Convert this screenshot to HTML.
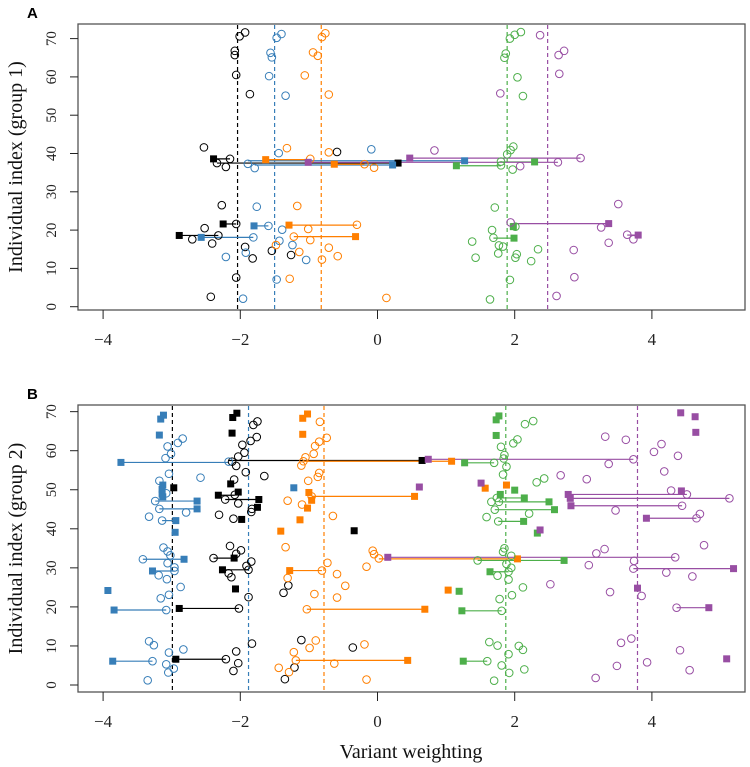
<!DOCTYPE html>
<html><head><meta charset="utf-8"><style>
html,body{margin:0;padding:0;background:#fff;}
svg{display:block;}
</style></head><body>
<svg id="chart" width="750" height="767" viewBox="0 0 750 767" xmlns="http://www.w3.org/2000/svg"></svg>
<script>
// ---------- Panel A data ----------
const xTicks = [-4,-2,0,2,4];
const yTicks = [0,10,20,30,40,50,60,70];
const colorNames = ["black","blue","orange","green","purple"];
const aMeans = [-2.04,-1.50,-0.82,1.89,2.48];
const aBlackCircles = [[-1.93,71.6],[-2.01,70.6],[-2.08,66.8],[-2.08,65.7],[-2.06,60.5],[-1.86,55.5],[-2.53,41.6],[-0.59,40.4],[-2.15,38.6],[-2.34,37.5],[-2.21,36.5],[-2.27,26.5],[-2.06,21.6],[-2.52,20.5],[-2.70,17.6],[-2.32,18.6],[-2.41,16.5],[-1.93,15.6],[-1.54,14.6],[-1.82,12.6],[-1.26,13.5],[-2.06,7.6],[-2.43,2.6]];
const aBlackSquares = [[-2.39,38.6,-2.15],[0.30,37.5,-2.34],[-2.25,21.6,-2.06],[-2.89,18.6,-2.32]];
const aBlueCircles = [[-1.40,71.2],[-1.47,70.2],[-1.56,66.3],[-1.54,65.1],[-1.58,60.2],[-1.34,55.1],[-0.09,41.1],[-1.44,40.1],[-1.89,37.3],[-1.79,36.2],[-1.76,26.1],[-1.59,21.1],[-1.39,20.1],[-1.81,18.1],[-1.43,17.2],[-1.24,16.1],[-1.92,14.1],[-2.21,13.0],[-1.04,12.2],[-1.47,7.1],[-1.96,2.1]];
const aBlueSquares = [[1.27,38.1,-1.89],[0.22,37.0,-1.79],[-1.80,21.1,-1.59],[-2.57,18.1,-1.81]];
const aOrangeCircles = [[-0.76,71.4],[-0.81,70.4],[-0.94,66.4],[-0.87,65.5],[-1.06,60.4],[-0.71,55.4],[-1.32,41.4],[-0.71,40.3],[-0.98,38.6],[-0.19,37.2],[-0.05,36.3],[-1.17,26.3],[-0.30,21.4],[-1.01,20.3],[-0.98,17.4],[-1.48,16.1],[-1.14,14.3],[-0.71,15.4],[-0.58,13.2],[-0.81,12.3],[-1.28,7.3],[0.13,2.3],[-1.22,18.3]];
const aOrangeSquares = [[-1.63,38.4,-0.98],[-0.63,37.2,-0.19],[-1.29,21.3,-0.30],[-0.32,18.3,-1.22]];
const aGreenCircles = [[2.09,71.7],[2.00,71.0],[1.93,70.0],[1.87,66.1],[1.85,65.0],[2.04,59.9],[2.12,55.0],[1.98,41.8],[1.94,40.9],[1.89,39.8],[1.80,37.9],[1.80,36.9],[1.97,35.8],[1.71,25.9],[1.67,20.0],[2.01,20.9],[1.69,18.0],[1.38,17.0],[1.77,16.0],[1.83,15.7],[2.34,15.0],[1.76,13.9],[2.03,13.7],[2.01,12.8],[1.43,12.8],[2.24,11.9],[1.93,7.0],[1.64,1.9]];
const aGreenSquares = [[1.15,36.8,1.80],[2.29,37.8,1.80],[1.98,20.9,2.01],[1.99,17.9,1.69]];
const aPurpleCircles = [[2.37,70.9],[2.72,66.8],[2.64,65.7],[2.65,60.8],[1.79,55.7],[0.83,40.8],[2.96,38.8],[2.63,37.7],[2.08,36.7],[3.51,26.8],[1.94,22.0],[3.26,20.7],[3.64,18.8],[3.73,17.6],[3.37,16.7],[2.86,14.8],[2.87,7.7],[2.61,2.8]];
const aPurpleSquares = [[0.47,38.8,2.96],[-1.01,37.7,2.63],[3.37,21.7,1.94],[3.80,18.7,3.64]];

// ---------- Panel B data ----------
const bMeans = [-1.88,-2.99,-0.78,1.87,3.79];
const bBlackCircles = [[-1.75,67.5],[-1.81,66.6],[-1.76,63.5],[-1.85,62.5],[-1.97,61.5],[-1.94,59.5],[-2.03,58.5],[-2.12,57.2],[-2.06,56.1],[-1.92,54.5],[-1.65,53.5],[-2.09,52.6],[-2.08,48.7],[-2.22,47.5],[-2.03,46.5],[-1.83,45.1],[-1.84,44.3],[-2.31,43.6],[-2.10,42.6],[-2.15,35.6],[-1.99,34.5],[-2.06,33.6],[-2.39,32.5],[-1.84,31.6],[-1.91,30.5],[-1.88,29.5],[-2.17,28.6],[-2.13,27.6],[-1.88,22.5],[-1.30,25.5],[-1.37,23.6],[-2.02,19.6],[-1.11,11.5],[-0.36,9.6],[-1.83,10.6],[-2.06,8.6],[-2.21,6.6],[-2.03,5.6],[-2.10,3.6],[-1.21,4.5],[-1.35,1.5]];
const bBlackSquares = [[-2.05,69.6,null],[-2.11,68.5,null],[-2.12,64.5,null],[0.65,57.5,-2.17],[-2.97,50.5,null],[-2.14,51.5,null],[-2.03,49.4,null],[-2.32,48.6,-2.08],[-1.73,47.5,-2.22],[-1.75,45.5,null],[-1.98,42.4,null],[-0.34,39.5,null],[-2.09,32.5,-2.39],[-2.26,29.5,-1.88],[-2.07,24.6,null],[-2.89,19.6,-2.02],[-2.94,6.6,-2.21]];
const bBlueCircles = [[-2.91,62.0],[-2.84,63.1],[-3.06,61.1],[-3.01,59.2],[-3.09,58.1],[-2.17,57.2],[-3.04,54.1],[-2.58,53.1],[-3.18,52.3],[-3.08,49.1],[-3.24,47.1],[-3.18,45.1],[-2.79,44.2],[-3.33,43.1],[-3.14,42.1],[-3.12,35.2],[-3.06,34.2],[-3.02,33.2],[-3.42,32.2],[-3.06,31.2],[-2.96,30.1],[-2.96,29.2],[-3.19,28.1],[-3.07,27.1],[-2.87,25.1],[-3.04,23.1],[-3.16,22.2],[-3.08,19.2],[-3.33,11.2],[-3.26,10.2],[-3.04,8.3],[-2.83,9.1],[-3.28,6.1],[-3.08,5.3],[-2.97,4.2],[-3.05,3.2],[-3.35,1.2]];
const bBlueSquares = [[-3.12,69.1,null],[-3.16,68.1,null],[-3.18,64.0,null],[-3.74,57.0,-2.17],[-1.22,50.5,null],[-3.13,51.2,null],[-3.14,50.1,null],[-3.14,48.9,null],[-3.13,48.2,null],[-2.63,47.1,-3.24],[-2.63,45.1,-3.18],[-2.94,42.1,-3.14],[-2.95,39.1,null],[-2.82,32.2,-3.42],[-3.28,29.2,-2.96],[-3.93,24.2,null],[-3.84,19.2,-3.08],[-3.86,6.1,-3.28]];
const bOrangeCircles = [[-0.84,67.4],[-0.74,63.3],[-0.85,62.3],[-0.91,61.2],[-0.93,59.2],[-1.05,58.3],[-1.08,57.3],[-1.11,56.2],[-0.85,54.3],[-0.87,53.3],[-1.01,52.3],[-0.96,48.3],[-1.31,47.2],[-1.10,46.2],[-0.65,43.3],[-1.34,35.3],[-0.07,34.4],[-0.05,33.5],[0.02,32.4],[-0.73,31.3],[-0.16,30.3],[-0.81,29.3],[-1.31,27.4],[-0.59,28.4],[-0.47,25.4],[-0.59,22.4],[-0.92,23.3],[-1.03,19.4],[-0.90,11.4],[-0.99,9.5],[-0.19,10.4],[-1.22,8.4],[-1.19,6.3],[-0.63,5.5],[-1.44,4.4],[-1.29,3.3],[-0.16,1.4]];
const bOrangeSquares = [[-1.02,69.4,null],[-1.09,68.3,null],[-1.09,64.2,null],[1.08,57.3,-1.08],[1.88,51.2,null],[1.57,50.4,null],[-1.00,49.3,null],[0.54,48.3,-0.96],[-0.96,47.3,null],[-1.02,45.3,null],[-1.13,42.3,null],[-1.41,39.4,null],[2.04,32.3,0.02],[-1.28,29.3,-0.81],[1.03,24.3,null],[0.69,19.4,-1.03],[0.44,6.3,-1.19]];
const bGreenCircles = [[2.27,67.6],[2.15,66.8],[2.04,62.9],[1.98,61.9],[1.80,61.0],[1.85,58.9],[1.84,58.0],[1.70,56.9],[1.88,55.9],[1.83,53.9],[2.43,52.9],[2.32,51.9],[1.74,47.9],[1.77,46.9],[1.66,46.9],[1.71,44.9],[2.21,43.9],[1.59,43.0],[1.76,41.9],[1.85,35.0],[1.83,34.1],[1.95,33.1],[1.46,31.9],[1.88,31.0],[1.95,30.0],[1.91,29.0],[1.75,28.0],[1.91,27.0],[2.12,25.0],[1.96,23.0],[1.78,22.0],[1.81,19.0],[1.63,11.0],[1.75,10.1],[2.06,10.0],[2.12,9.0],[1.91,7.9],[1.60,6.1],[1.81,5.0],[1.92,3.1],[2.14,4.0],[1.70,1.1]];
const bGreenSquares = [[1.77,68.9,null],[1.73,67.9,null],[1.73,63.9,null],[1.27,56.9,1.70],[1.79,48.8,null],[2.00,49.9,null],[2.14,47.9,1.74],[2.50,46.9,1.77],[2.58,44.9,1.71],[2.13,41.9,1.76],[2.33,38.9,null],[2.72,31.9,1.46],[1.64,29.0,1.91],[1.19,24.0,null],[1.23,19.0,1.81],[1.25,6.1,1.60]];
const bPurpleCircles = [[3.32,63.6],[3.62,62.8],[4.14,61.7],[4.03,59.7],[4.38,58.7],[3.73,57.8],[3.37,56.6],[4.18,54.7],[2.67,53.7],[3.05,52.7],[4.28,49.8],[4.51,48.8],[5.13,47.8],[4.44,45.9],[3.47,44.7],[4.70,43.8],[4.65,42.7],[4.76,35.8],[3.31,34.8],[3.19,33.7],[4.34,32.7],[3.74,31.8],[3.08,30.7],[3.73,29.8],[4.21,28.8],[4.59,27.8],[2.52,25.8],[3.85,22.8],[3.39,23.8],[4.36,19.8],[3.70,11.9],[3.55,10.8],[4.41,8.9],[3.93,5.8],[3.49,4.9],[4.55,3.8],[3.18,1.8]];
const bPurpleSquares = [[4.42,69.7,null],[4.63,68.7,null],[4.64,64.7,null],[0.74,57.8,3.73],[0.61,50.7,null],[1.51,51.7,null],[4.43,49.7,null],[2.78,48.8,4.51],[2.81,47.8,5.13],[2.82,45.9,4.44],[3.92,42.7,4.65],[2.37,39.7,null],[0.15,32.7,4.34],[5.19,29.8,3.73],[3.79,24.8,null],[4.83,19.8,4.36],[5.09,6.7,null]];

const colors = {black:"#000000",blue:"#377eb8",orange:"#ff7f00",green:"#4daf4a",purple:"#984ea3"};
const NS = "http://www.w3.org/2000/svg";
const svg = document.getElementById("chart");
function mk(tag, attrs, parent){
  const e = document.createElementNS(NS, tag);
  for (const k in attrs) e.setAttribute(k, attrs[k]);
  (parent||svg).appendChild(e);
  return e;
}
const xScale = v => 377.5 + v*68.6;
const panels = [
  {id:"a", letter:"A", top:24, bottom:310, y0:306.7, yk:3.83, title:"Individual index (group 1)", means:aMeans,
   circles:{black:aBlackCircles,blue:aBlueCircles,orange:aOrangeCircles,green:aGreenCircles,purple:aPurpleCircles},
   squares:{black:aBlackSquares,blue:aBlueSquares,orange:aOrangeSquares,green:aGreenSquares,purple:aPurpleSquares}},
  {id:"b", letter:"B", top:405, bottom:692, y0:685, yk:3.905, title:"Individual index (group 2)", means:[bMeans[1],bMeans[0],bMeans[2],bMeans[3],bMeans[4]],
   circles:{black:bBlackCircles,blue:bBlueCircles,orange:bOrangeCircles,green:bGreenCircles,purple:bPurpleCircles},
   squares:{black:bBlackSquares,blue:bBlueSquares,orange:bOrangeSquares,green:bGreenSquares,purple:bPurpleSquares}}
];
const serif = '"Liberation Serif", serif';
panels.forEach(p=>{
  const yScale = v => p.y0 - v*p.yk;
  const g = mk("g",{});
  
  
  const lt = mk("text",{x:27,y:p.top-6,"font-family":'"Liberation Sans", sans-serif',"font-weight":"bold","font-size":"15"},g);
  lt.textContent = p.letter;
  
  
  // mean lines
  p.means.forEach((m,i)=>{
    const l = mk("line",{x1:xScale(m),x2:xScale(m),y1:p.top+1,y2:p.bottom-1,stroke:colors[colorNames[i]],"stroke-width":1.2,"stroke-dasharray":"4,3"},g);
    
    
  });
  // segments and squares
  colorNames.forEach(c=>{
    p.squares[c].forEach(s=>{
      if (s[2]!==null){
        const l = mk("line",{x1:xScale(s[0]),x2:xScale(s[2]),y1:yScale(s[1]),y2:yScale(s[1]),stroke:colors[c],"stroke-width":1.2},g);
        
        
      }
    });
  });
  colorNames.forEach(c=>{
    p.circles[c].forEach(pt=>{
      const e = mk("circle",{cx:xScale(pt[0]),cy:yScale(pt[1]),r:3.8,fill:"none",stroke:colors[c],"stroke-width":1},g);
      
      
    });
    p.squares[c].forEach(s=>{
      const e = mk("rect",{x:xScale(s[0])-3.5,y:yScale(s[1])-3.5,width:7,height:7,fill:colors[c]},g);
      
      
    });
  });
  // box
  const box = mk("rect",{x:78,y:p.top,width:667,height:p.bottom-p.top,fill:"none",stroke:"#555","stroke-width":1.3},g);
  
  
  // x ticks
  xTicks.forEach(t=>{
    const x = xScale(t);
    const tk = mk("line",{x1:x,x2:x,y1:p.bottom,y2:p.bottom+9,stroke:"#222","stroke-width":1},g);
    
    
    const tx = mk("text",{x:x,y:p.bottom+35,"text-anchor":"middle","font-family":serif,"font-size":"17",fill:"#222"},g);
    tx.textContent = t<0 ? "\u2212"+Math.abs(t) : String(t);
    
    
  });
  yTicks.forEach(t=>{
    const y = yScale(t);
    const tk = mk("line",{x1:70,x2:78,y1:y,y2:y,stroke:"#222","stroke-width":1},g);
    
    
    const tx = mk("text",{x:0,y:0,transform:`translate(56,${y}) rotate(-90)`,"text-anchor":"middle","font-family":serif,"font-size":"15",fill:"#222"},g);
    tx.textContent = String(t);
    
    
  });
  const yt = mk("text",{x:0,y:0,transform:`translate(22,${(p.top+p.bottom)/2}) rotate(-90)`,"text-anchor":"middle","font-family":serif,"font-size":"20",fill:"#111"},g);
  yt.textContent = p.title;
  
  
});
const xt = mk("text",{x:411,y:758,"text-anchor":"middle","font-family":serif,"font-size":"20",fill:"#111"});
xt.textContent = "Variant weighting";


</script>
</body></html>
